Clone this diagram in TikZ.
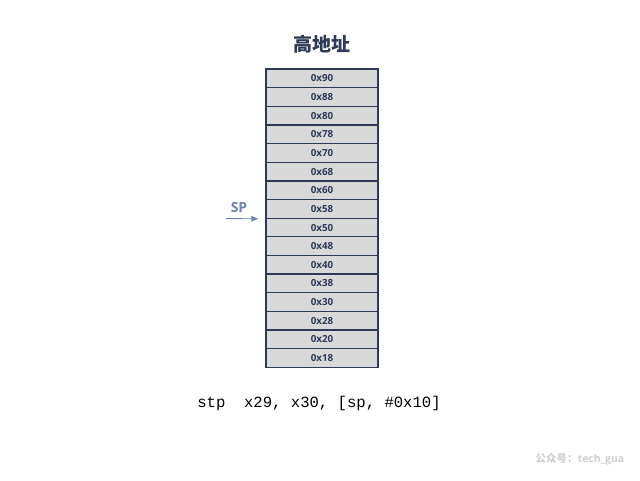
\documentclass[tikz,border=0pt]{standalone}
\usepackage{fontspec}
\setmainfont{Open Sans}
\setmonofont{Liberation Mono}
\newfontfamily\cjk{Noto Sans CJK SC}
\usetikzlibrary{arrows.meta, positioning}
\definecolor{navy}{HTML}{2E3A56}
\definecolor{slate}{HTML}{6F83AB}
\definecolor{cellgray}{HTML}{D9D9D9}
\definecolor{markgray}{HTML}{CFCFCF}

\begin{document}
\begin{tikzpicture}[x=1pt, y=-1pt,
        cell/.style={rectangle, draw=navy, line width=1.3pt, fill=cellgray, minimum width=112pt, minimum height=18.65pt, inner sep=0pt, text=navy, font=\fontsize{9.8}{11}\selectfont\bfseries},
        arrow/.style={-{Triangle[length=7pt, width=5.5pt]}, slate, line width=0.9pt}
    ]
        \useasboundingbox (0,0) rectangle (640,480);
        \node[text=navy, font=\cjk\bfseries\fontsize{19}{22}\selectfont] (title) at (322,44) {高地址};

        \foreach \addr [count=\i from 0] in {0x90,0x88,0x80,0x78,0x70,0x68,0x60,0x58,0x50,0x48,0x40,0x38,0x30,0x28,0x20,0x18}
            \node[cell] (row\i) at (322,{78.3+18.65*\i}) {\addr};

        \node[text=slate, font=\fontsize{14}{16}\selectfont\bfseries] (sp) at (239,207) {SP};
        \coordinate (sptail) at (226,218.6);
        \draw[arrow, shorten >=7pt] (sptail) -- (row7.south west);

        \node[font=\ttfamily\fontsize{15.6}{18}\selectfont] (code) at (319,403) {stp\ \ x29, x30, [sp, \#0x10]};

        \node[text=markgray, font=\fontsize{10.5}{12}\selectfont\bfseries] (mark) at (580,459) {{\cjk 公众号：}tech\_gua};
    \end{tikzpicture}
\end{document}
